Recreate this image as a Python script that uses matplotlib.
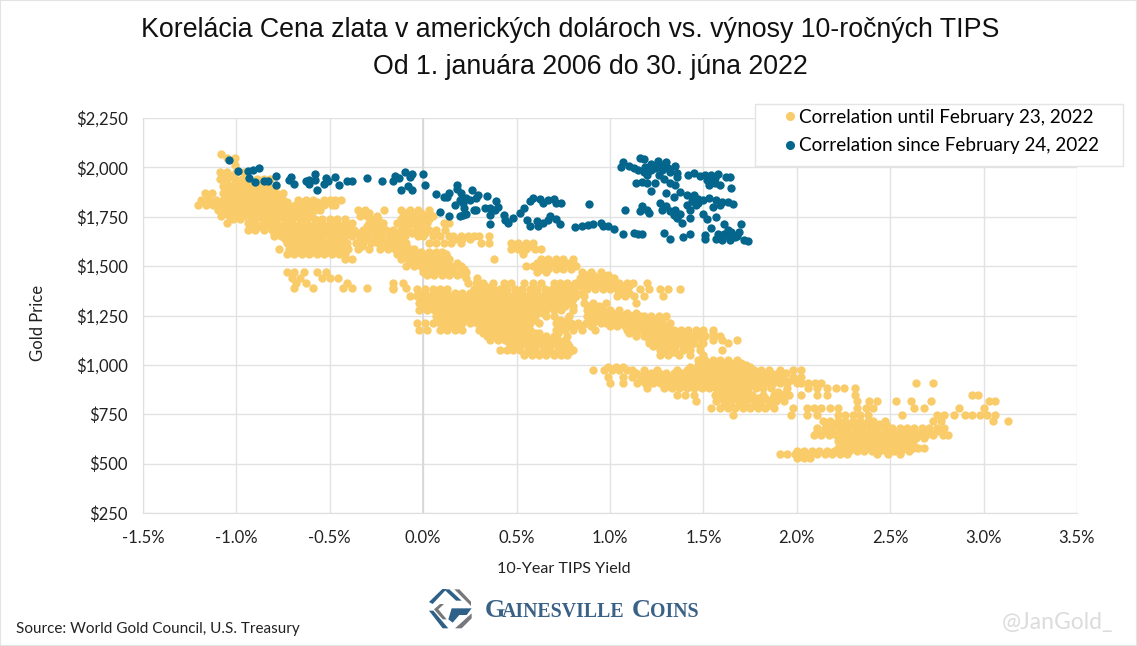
import matplotlib
matplotlib.use('Agg')
import matplotlib.pyplot as plt
from matplotlib.patches import Polygon, Rectangle
from matplotlib.lines import Line2D

W, H = 1137, 646

title_lines = ['Korelácia Cena zlata v amerických dolároch vs. výnosy 10-ročných TIPS',
               'Od 1. januára 2006 do 30. júna 2022']
x_ticks = [-1.5, -1.0, -0.5, 0.0, 0.5, 1.0, 1.5, 2.0, 2.5, 3.0, 3.5]
y_ticks = [250, 500, 750, 1000, 1250, 1500, 1750, 2000, 2250]

# blue points, (10y yield %, gold price)
blue_left = [(-1.04, 2039), (-0.99, 1980), (-0.94, 1980), (-0.93, 1946), (-0.90, 1924), (-0.91, 1985), (-0.88, 1998),
             (-0.85, 1929), (-0.83, 1929), (-0.79, 1955), (-0.79, 1909), (-0.72, 1934), (-0.71, 1949), (-0.69, 1916),
             (-0.625, 1933), (-0.61, 1916), (-0.61, 1938), (-0.58, 1966), (-0.58, 1934), (-0.57, 1885), (-0.53, 1916),
             (-0.52, 1946), (-0.51, 1929), (-0.47, 1953), (-0.45, 1911), (-0.41, 1929), (-0.38, 1931), (-0.30, 1944),
             (-0.22, 1929), (-0.16, 1931), (-0.15, 1958), (-0.13, 1946), (-0.10, 1976), (-0.07, 1951), (-0.06, 1968),
             (0.00, 1965), (0.01, 1911), (-0.12, 1887), (-0.08, 1904), (-0.06, 1884)]
blue_mid = [(0.07, 1864), (0.11, 1850), (0.125, 1850), (0.14, 1870), (0.18, 1912), (0.18, 1890), (0.205, 1870),
            (0.26, 1884), (0.295, 1862), (0.34, 1857), (0.39, 1830), (0.17, 1811), (0.195, 1837), (0.23, 1845),
            (0.215, 1820), (0.25, 1837), (0.28, 1845), (0.22, 1795), (0.215, 1761), (0.195, 1752), (0.23, 1766),
            (0.09, 1773), (0.14, 1752), (0.27, 1783), (0.285, 1786), (0.33, 1795), (0.36, 1795), (0.385, 1786),
            (0.40, 1800), (0.36, 1761), (0.36, 1714), (0.43, 1761), (0.44, 1736), (0.455, 1719), (0.48, 1744),
            (0.52, 1769), (0.54, 1795), (0.57, 1828), (0.59, 1845), (0.625, 1840), (0.64, 1820), (0.67, 1837),
            (0.70, 1840), (0.71, 1820), (0.74, 1820), (0.555, 1732), (0.57, 1705), (0.615, 1702), (0.61, 1727),
            (0.64, 1719), (0.67, 1736), (0.68, 1752), (0.71, 1739), (0.73, 1714), (0.81, 1699), (0.89, 1815),
            (0.85, 1702), (0.88, 1707), (0.91, 1712), (0.95, 1720), (0.96, 1702), (0.99, 1702), (1.02, 1686),
            (1.07, 1663), (1.13, 1668), (1.15, 1663), (1.17, 1661), (1.08, 1783), (1.16, 1780), (1.17, 1803),
            (1.20, 1786), (1.21, 1769), (1.29, 1668), (1.32, 1639), (1.39, 1647), (1.43, 1664), (1.51, 1656),
            (1.51, 1639)]
blue_right = [(1.07, 2029), (1.06, 2000), (1.10, 2007), (1.13, 1995), (1.16, 2046), (1.18, 2042), (1.15, 1986),
              (1.18, 1978), (1.22, 2017), (1.255, 2034), (1.24, 1995), (1.30, 2029), (1.28, 1986), (1.35, 2007),
              (1.31, 1995), (1.36, 1973), (1.20, 1961), (1.26, 1961), (1.14, 1922), (1.17, 1927), (1.20, 1919),
              (1.24, 1919), (1.36, 1949), (1.29, 1939), (1.22, 1881), (1.32, 1919), (1.35, 1910), (1.30, 1871),
              (1.34, 1851), (1.375, 1876), (1.42, 1961), (1.45, 1973), (1.48, 1956), (1.51, 1961), (1.55, 1944),
              (1.58, 1966), (1.62, 1953), (1.64, 1953), (1.52, 1936), (1.53, 1910), (1.56, 1919), (1.59, 1910),
              (1.65, 1898), (1.41, 1859), (1.45, 1859), (1.47, 1842), (1.50, 1834), (1.53, 1847), (1.57, 1837),
              (1.60, 1825), (1.63, 1825), (1.66, 1814), (1.55, 1800), (1.59, 1808), (1.46, 1808), (1.41, 1808),
              (1.43, 1783), (1.27, 1820), (1.30, 1803), (1.28, 1783), (1.32, 1780), (1.35, 1786), (1.34, 1758),
              (1.375, 1763), (1.36, 1746), (1.43, 1746), (1.385, 1719), (1.50, 1763), (1.52, 1741), (1.57, 1749),
              (1.54, 1695), (1.61, 1712), (1.70, 1712), (1.63, 1681), (1.65, 1673), (1.69, 1673), (1.57, 1639),
              (1.60, 1647), (1.64, 1634), (1.67, 1647), (1.72, 1630), (1.74, 1625), (1.61, 1664), (1.58, 1661),
              (1.19, 2000), (1.22, 1985), (1.25, 2010), (1.28, 2010), (1.32, 1975), (1.54, 1960), (1.56, 1945),
              (1.47, 1820), (1.44, 1830), (1.62, 1660), (1.66, 1660), (1.60, 1632), (1.68, 1655)]

# gold points, grouped by price level: (price, [yields])
gold_top = [
    (2068, [-1.08]), (2045, [-1.05, -1.01]), (2010, [-1.01]),
    (1975, [-1.09, -1.05, -1.0, -0.96]),
    (1940, [-1.09, -1.05, -1.01, -0.97, -0.93, -0.89, -0.85, -0.82]),
    (1905, [-1.07, -1.03, -0.99, -0.95, -0.91, -0.87, -0.83, -0.79]),
    (1870, [-1.17, -1.13, -1.07, -1.03, -0.99, -0.95, -0.91, -0.87, -0.83, -0.79, -0.75]),
    (1837, [-1.19, -1.15, -1.11, -1.07, -1.03, -0.99, -0.95, -0.91, -0.87, -0.83, -0.79, -0.75, -0.67, -0.63, -0.59,
            -0.53, -0.5, -0.47, -0.44]),
    (1810, [-1.205, -1.165, -1.125, -1.085, -1.045, -1.005, -0.965, -0.925, -0.885, -0.845, -0.805, -0.765, -0.725,
            -0.685, -0.645, -0.605, -0.565, -0.53, -0.49, -0.47]),
    (1785, [-1.10, -1.06, -1.02, -0.98, -0.94, -0.90, -0.86, -0.82, -0.78, -0.74, -0.70, -0.66, -0.62, -0.58, -0.55,
            -0.35, -0.31, -0.21, -0.12, -0.07, -0.03, 0.03]),
    (1755, [-1.08, -1.04, -1, -0.96, -0.92, -0.88, -0.84, -0.80, -0.76, -0.72, -0.68, -0.64, -0.60, -0.34, -0.30,
            -0.25, -0.11, -0.07, -0.03, 0.01, 0.05]),
    (1720, [-1.05, -0.94, -0.90, -0.86, -0.82, -0.78, -0.74, -0.70, -0.66, -0.62, -0.58, -0.54, -0.50, -0.46, -0.42,
            -0.38, -0.29, -0.25, -0.215, -0.14, -0.10, -0.06, -0.02, 0.02, 0.11, 0.14]),
    (1685, [-0.94, -0.90, -0.85, -0.81, -0.77, -0.73, -0.69, -0.65, -0.61, -0.57, -0.53, -0.49, -0.45, -0.41, -0.37,
            -0.32, -0.28, -0.24, -0.20, -0.16, -0.12, -0.08, -0.04, 0, 0.03, 0.07, 0.115]),
    (1651, [-0.80, -0.76, -0.72, -0.68, -0.64, -0.60, -0.56, -0.50, -0.46, -0.42, -0.38, -0.34, -0.30, -0.26, -0.22,
            -0.18, -0.14, -0.10, -0.03, 0, 0.05, 0.09, 0.14, 0.16, 0.20, 0.24, 0.27, 0.30, 0.35]),
    (1618, [-0.73, -0.69, -0.65, -0.61, -0.57, -0.53, -0.49, -0.45, -0.41, -0.36, -0.32, -0.28, -0.24, -0.20, -0.16,
            -0.12, -0.09, 0.03, 0.07, 0.11, 0.15, 0.205, 0.31, 0.35, 0.47, 0.51, 0.55, 0.59]),
    (1585, [-0.77, -0.72, -0.68, -0.64, -0.60, -0.56, -0.52, -0.48, -0.44, -0.40, -0.35, -0.29, -0.23, -0.19, -0.15,
            -0.11, -0.07, -0.05, 0.47, 0.51, 0.55, 0.60, 0.63]),
    (1560, [-0.73, -0.69, -0.65, -0.61, -0.57, -0.53, -0.49, -0.45, -0.42, -0.14, -0.10, -0.06, -0.02, 0.02, 0.06,
            0.10, 0.12, 0.535]),
    (1535, [-0.42, -0.38, -0.12, -0.08, -0.04, 0, 0.04, 0.08, 0.12, 0.14, 0.38, 0.63, 0.67, 0.71, 0.75, 0.80]),
    (1500, [-0.09, -0.05, -0.01, 0.03, 0.07, 0.11, 0.15, 0.20, 0.55, 0.59, 0.63, 0.67, 0.71, 0.75, 0.79, 0.82]),
    (1470, [-0.73, -0.69, -0.64, -0.57, -0.52, 0, 0.04, 0.08, 0.12, 0.16, 0.20, 0.23, 0.61, 0.66, 0.85, 0.90, 0.95]),
    (1440, [-0.70, -0.66, -0.54, -0.5, -0.455, 0.23, 0.29, 0.84, 0.88, 0.92, 0.96, 1.0, 1.02]),
    (1415, [-0.68, -0.625, -0.41, -0.16, -0.11, 0.24, 0.28, 0.32, 0.375, 0.43, 0.47, 0.54, 0.59, 0.63, 0.70, 0.73,
            0.77, 0.81, 0.85, 0.89, 0.93, 0.97, 1.01, 1.05, 1.09, 1.125, 1.20]),
    (1390, [-0.69, -0.59, -0.43, -0.38, -0.30, -0.16, -0.09]),
]
gold_top_inner = [
    (1957, [-1.07, -1.03]),
    (1922, [-1.05, -1.01, -0.97, -0.93, -0.89, -0.85]),
    (1888, [-1.05, -1.01, -0.97, -0.93, -0.89, -0.85, -0.81]),
    (1853, [-1.15, -1.05, -1.01, -0.97, -0.93, -0.89, -0.85, -0.81, -0.77]),
    (1823, [-1.17, -1.13, -1.09, -1.05, -1.01, -0.97, -0.93, -0.89, -0.85, -0.81, -0.77, -0.73, -0.65, -0.61, -0.57,
            -0.51]),
    (1797, [-1.08, -1.04, -1.0, -0.96, -0.92, -0.88, -0.84, -0.80, -0.76, -0.72, -0.68, -0.64, -0.60, -0.56]),
    (1770, [-1.06, -1.02, -0.98, -0.94, -0.90, -0.86, -0.82, -0.78, -0.74, -0.70, -0.66, -0.62, -0.33, -0.29, -0.09,
            -0.05, -0.01, 0.03]),
    (1737, [-1.02, -0.98, -0.90, -0.86, -0.82, -0.78, -0.74, -0.70, -0.66, -0.62, -0.58, -0.54, -0.50, -0.46, -0.42,
            -0.28, -0.24, -0.12, -0.08, -0.04, 0, 0.03]),
    (1702, [-0.92, -0.88, -0.84, -0.80, -0.76, -0.72, -0.68, -0.64, -0.60, -0.56, -0.52, -0.48, -0.44, -0.39, -0.30,
            -0.26, -0.22, -0.12, -0.08, -0.04, 0, 0.01]),
    (1668, [-0.80, -0.76, -0.72, -0.68, -0.64, -0.60, -0.56, -0.52, -0.48, -0.44, -0.40, -0.35, -0.30, -0.26, -0.22,
            -0.18, -0.14, -0.12, -0.06, -0.02, 0.01]),
    (1635, [-0.74, -0.70, -0.66, -0.62, -0.58, -0.54, -0.50, -0.46, -0.44, -0.34, -0.30, -0.26, -0.22, -0.18, -0.14,
            -0.12, 0.17, 0.21, 0.25]),
    (1602, [-0.70, -0.66, -0.62, -0.58, -0.54, -0.50, -0.46, -0.42, -0.33, -0.21, -0.17, -0.13, -0.09, 0.49, 0.53,
            0.57]),
    (1572, [-0.71, -0.67, -0.63, -0.59, -0.55, -0.51, -0.47, -0.43, -0.13, -0.09, -0.05, -0.01, 0.03, 0.07, 0.10]),
    (1547, [-0.09, -0.05, -0.01, 0.03, 0.07, 0.11, 0.13]),
    (1517, [-0.07, -0.03, 0.01, 0.05, 0.09, 0.13, 0.18, 0.61, 0.65, 0.69, 0.73, 0.77, 0.80]),
    (1485, [0.0, 0.04, 0.08, 0.12, 0.16, 0.20, 0.22, 0.63, 0.67, 0.71, 0.75, 0.79]),
    (1455, [0.02, 0.06, 0.10, 0.14, 0.18, 0.22, 0.87, 0.91, 0.95, 0.99]),
]
gold_middle = [
    (1382, [-0.16, -0.035, 0.01, 0.05, 0.09, 0.125, 0.27, 0.31, 0.345, 0.375, 0.41, 0.45, 0.49, 0.53, 0.57, 0.61,
            0.65, 0.69, 0.72, 0.76, 0.80, 0.86, 0.875, 0.92, 0.96, 1.0, 1.04, 1.09, 1.16, 1.21, 1.27, 1.31, 1.375]),
    (1350, [-0.07, -0.035, -0.02, 0.02, 0.06, 0.10, 0.14, 0.18, 0.22, 0.26, 0.30, 0.34, 0.38, 0.42, 0.46, 0.50, 0.54,
            0.58, 0.62, 0.66, 0.70, 0.74, 0.78, 0.82, 0.86, 1.04, 1.08, 1.13, 1.18, 1.285]),
    (1315, [-0.02, 0.03, 0.07, 0.11, 0.15, 0.19, 0.23, 0.27, 0.31, 0.35, 0.39, 0.43, 0.47, 0.51, 0.55, 0.59, 0.63,
            0.67, 0.71, 0.75, 0.79, 0.86, 0.91, 0.98, 1.14]),
    (1280, [-0.02, 0.02, 0.06, 0.10, 0.14, 0.18, 0.22, 0.26, 0.30, 0.34, 0.38, 0.42, 0.46, 0.50, 0.54, 0.58, 0.62,
            0.66, 0.70, 0.74, 0.80, 0.875, 0.92, 0.96, 1.0, 1.05]),
    (1246, [0.07, 0.11, 0.15, 0.19, 0.23, 0.27, 0.31, 0.35, 0.39, 0.43, 0.47, 0.51, 0.55, 0.60, 0.66, 0.70, 0.78,
            0.875, 0.92, 0.96, 1.0, 1.04, 1.08, 1.12, 1.16, 1.18, 1.22, 1.26, 1.30]),
    (1212, [-0.035, 0.01, 0.05, 0.09, 0.13, 0.17, 0.21, 0.25, 0.29, 0.33, 0.37, 0.41, 0.45, 0.49, 0.53, 0.57, 0.62,
            0.71, 0.75, 0.79, 0.83, 0.87, 0.91, 0.95, 0.98, 1.02, 1.06, 1.10, 1.14, 1.18, 1.22, 1.26, 1.32]),
    (1179, [-0.02, 0.02, 0.09, 0.13, 0.17, 0.21, 0.30, 0.34, 0.38, 0.42, 0.46, 0.50, 0.54, 0.57, 0.71, 0.76, 0.80,
            0.85, 0.92, 1.09, 1.13, 1.17, 1.21, 1.25, 1.29, 1.32, 1.34, 1.38, 1.42, 1.46, 1.50, 1.55]),
    (1145, [0.34, 0.38, 0.42, 0.46, 0.50, 0.54, 0.58, 0.62, 0.66, 0.70, 0.77, 1.14, 1.18, 1.23, 1.27, 1.31, 1.35,
            1.39, 1.43, 1.47, 1.51, 1.55, 1.59]),
    (1111, [0.46, 0.50, 0.54, 0.58, 0.62, 0.66, 0.70, 0.74, 0.77, 1.21, 1.25, 1.29, 1.33, 1.37, 1.41, 1.45, 1.50,
            1.63]),
    (1077, [0.41, 0.45, 0.48, 0.52, 0.56, 0.60, 0.64, 0.68, 0.72, 0.76, 0.80, 1.27, 1.31, 1.35, 1.39, 1.43, 1.48,
            1.60]),
    (1052, [0.54, 0.58, 0.62, 0.66, 0.70, 0.74, 0.77, 1.27, 1.31, 1.37, 1.43, 1.50]),
    (1025, [1.47, 1.51, 1.55, 1.59, 1.63, 1.68]),
    (1000, [1.47, 1.51, 1.55, 1.59, 1.63, 1.67, 1.71, 1.73]),
]
gold_middle_inner = [
    (1398, [0.29, 0.33, 0.37, 0.75, 0.79, 0.83, 0.87, 0.91, 0.95, 0.99, 1.03, 1.07, 1.10]),
    (1366, [-0.03, 0.01, 0.05, 0.09, 0.13, 0.17, 0.21, 0.25, 0.29, 0.33, 0.37, 0.41, 0.45, 0.49, 0.53, 0.57, 0.61,
            0.65, 0.69, 0.73, 0.77, 0.81, 0.85, 1.06, 1.10]),
    (1332, [0.0, 0.04, 0.08, 0.12, 0.16, 0.20, 0.24, 0.28, 0.32, 0.36, 0.40, 0.44, 0.48, 0.52, 0.56, 0.60, 0.64, 0.68,
            0.72, 0.76, 0.80]),
    (1298, [0.0, 0.04, 0.08, 0.12, 0.16, 0.20, 0.24, 0.28, 0.32, 0.36, 0.40, 0.44, 0.48, 0.52, 0.56, 0.60, 0.64, 0.68,
            0.72, 0.76, 0.80, 0.89, 0.94]),
    (1263, [0.09, 0.13, 0.17, 0.21, 0.25, 0.29, 0.33, 0.37, 0.41, 0.45, 0.49, 0.53, 0.57, 0.61, 0.64, 0.89, 0.93, 0.97,
            1.01, 1.05, 1.09, 1.14]),
    (1229, [0.08, 0.12, 0.16, 0.20, 0.24, 0.28, 0.32, 0.36, 0.40, 0.44, 0.48, 0.52, 0.56, 0.60, 0.73, 0.77, 0.89, 0.93,
            0.97, 1.01, 1.05, 1.09, 1.13, 1.17, 1.21, 1.25, 1.28]),
    (1195, [0.10, 0.14, 0.18, 0.32, 0.36, 0.40, 0.44, 0.48, 0.52, 0.56, 0.73, 0.77, 0.81, 0.85, 0.90, 1.0, 1.04, 1.08,
            1.12, 1.16, 1.20, 1.24, 1.28, 1.30]),
    (1162, [0.32, 0.36, 0.40, 0.44, 0.48, 0.52, 0.56, 0.60, 0.62, 0.72, 1.10, 1.14, 1.18, 1.22, 1.26, 1.30, 1.34, 1.38,
            1.42, 1.46, 1.50, 1.55]),
    (1128, [0.36, 0.40, 0.44, 0.48, 0.52, 0.56, 0.60, 0.64, 0.68, 0.72, 0.76, 1.21, 1.25, 1.29, 1.33, 1.37, 1.41, 1.45,
            1.49, 1.55, 1.60, 1.68]),
    (1094, [0.48, 0.52, 0.56, 0.60, 0.64, 0.68, 0.72, 0.76, 0.78, 1.23, 1.27, 1.31, 1.35, 1.39, 1.43, 1.48]),
    (1065, [0.56, 0.60, 0.64, 0.68, 0.72, 0.76, 0.78, 1.29, 1.33, 1.35]),
]
gold_bottom = [
    (975, [0.91, 0.97, 1.01, 1.05, 1.09, 1.12, 1.18, 1.25, 1.36, 1.41, 1.45, 1.49, 1.53, 1.57, 1.61, 1.65, 1.69, 1.73,
           1.77, 1.81, 1.85, 1.91, 1.98, 2.02]),
    (941, [0.99, 1.07, 1.12, 1.16, 1.20, 1.24, 1.28, 1.32, 1.36, 1.40, 1.44, 1.48, 1.52, 1.56, 1.60, 1.64, 1.68, 1.72,
           1.76, 1.80, 1.84, 1.88, 1.92, 1.98, 2.02]),
    (908, [1.0, 1.07, 1.145, 1.19, 1.23, 1.27, 1.31, 1.35, 1.39, 1.43, 1.47, 1.51, 1.55, 1.59, 1.63, 1.67, 1.71, 1.75,
           1.79, 1.83, 1.87, 1.91, 1.95, 2.0, 2.02, 2.06, 2.10, 2.13, 2.64, 2.73]),
    (882, [1.20, 1.29, 1.33, 1.37, 1.41, 1.45, 1.49, 1.53, 1.57, 1.61, 1.65, 1.69, 1.73, 1.78, 1.82, 1.86, 1.95, 2.06,
           2.11, 2.16, 2.21, 2.25, 2.31]),
    (848, [1.36, 1.40, 1.45, 1.56, 1.60, 1.64, 1.68, 1.72, 1.76, 1.82, 1.88, 1.92, 1.96, 2.02, 2.11, 2.16, 2.31, 2.94,
           2.97]),
    (815, [1.46, 1.57, 1.61, 1.65, 1.69, 1.73, 1.77, 1.81, 1.85, 1.89, 1.93, 2.32, 2.385, 2.43, 2.53, 2.61, 2.72,
           3.03, 3.06]),
    (782, [1.54, 1.59, 1.63, 1.67, 1.71, 1.75, 1.79, 1.83, 1.88, 1.98, 2.055, 2.09, 2.13, 2.18, 2.22, 2.32, 2.37, 2.41,
           2.63, 2.68, 2.87, 3.0]),
    (748, [1.66, 1.97, 2.055, 2.11, 2.22, 2.26, 2.30, 2.34, 2.38, 2.565, 2.75, 2.79, 2.84, 2.90, 2.94, 2.98, 3.02,
           3.06]),
    (715, [2.14, 2.18, 2.22, 2.26, 2.30, 2.34, 2.38, 2.41, 2.47, 2.73, 2.77, 3.05, 3.13]),
    (681, [2.11, 2.15, 2.19, 2.23, 2.27, 2.31, 2.35, 2.39, 2.43, 2.47, 2.51, 2.55, 2.59, 2.63, 2.67, 2.71, 2.75, 2.79]),
    (647, [2.09, 2.13, 2.17, 2.21, 2.25, 2.29, 2.33, 2.37, 2.41, 2.45, 2.49, 2.53, 2.57, 2.61, 2.65, 2.69, 2.73, 2.78,
           2.81]),
    (614, [2.22, 2.26, 2.30, 2.34, 2.38, 2.42, 2.46, 2.50, 2.54, 2.58, 2.61]),
    (580, [2.22, 2.26, 2.30, 2.34, 2.38, 2.42, 2.46, 2.50, 2.54, 2.58, 2.62, 2.65, 2.68]),
    (551, [1.91, 1.95, 1.99, 2.03, 2.07, 2.11, 2.15, 2.19, 2.23, 2.27, 2.43, 2.49, 2.55]),
    (530, [2.0, 2.04, 2.07]),
]
gold_bottom_inner = [
    (1012, [1.49, 1.53, 1.57, 1.61, 1.65, 1.70]),
    (988, [0.99, 1.03, 1.07, 1.43, 1.47, 1.51, 1.55, 1.59, 1.63, 1.67, 1.71, 1.75]),
    (958, [1.14, 1.18, 1.22, 1.26, 1.30, 1.34, 1.38, 1.42, 1.46, 1.50, 1.54, 1.58, 1.62, 1.66, 1.70, 1.74, 1.78, 1.82,
           1.86, 1.90, 1.94]),
    (925, [1.17, 1.21, 1.25, 1.29, 1.33, 1.37, 1.41, 1.45, 1.49, 1.53, 1.57, 1.61, 1.65, 1.69, 1.73, 1.77, 1.81, 1.85,
           1.89, 1.93, 1.97, 2.0]),
    (895, [1.31, 1.35, 1.39, 1.43, 1.47, 1.51, 1.55, 1.59, 1.63, 1.67, 1.71, 1.75, 1.80]),
    (865, [1.58, 1.62, 1.66, 1.70, 1.74, 1.90, 1.94]),
    (830, [1.59, 1.63, 1.67, 1.71, 1.75, 1.79, 1.83, 1.87, 1.91]),
    (798, [1.61, 1.65, 1.69, 1.73, 1.77, 1.81, 1.85]),
    (700, [2.16, 2.20, 2.24, 2.28, 2.32, 2.36, 2.40, 2.44, 2.48]),
    (665, [2.11, 2.15, 2.19, 2.23, 2.27, 2.31, 2.35, 2.39, 2.43, 2.47, 2.51, 2.55, 2.59, 2.63, 2.67, 2.71, 2.75, 2.77]),
    (630, [2.24, 2.28, 2.32, 2.36, 2.40, 2.44, 2.48, 2.52, 2.56, 2.60, 2.64, 2.68]),
    (597, [2.24, 2.28, 2.32, 2.36, 2.40, 2.44, 2.48, 2.52, 2.56, 2.60, 2.62]),
    (565, [2.0, 2.04, 2.08, 2.12, 2.16, 2.20, 2.24, 2.28, 2.32, 2.36, 2.40, 2.44, 2.48, 2.52, 2.56, 2.60]),
]

gold_x, gold_y = [], []
for rows in (gold_top, gold_top_inner, gold_middle, gold_middle_inner, gold_bottom, gold_bottom_inner):
    for price, yields in rows:
        gold_x += yields
        gold_y += [price] * len(yields)
blue = blue_left + blue_mid + blue_right
blue_x = [p[0] for p in blue]
blue_y = [p[1] for p in blue]

GOLD = '#f9cb69'
BLUE = '#04668c'
TICK_FONT = ['Lato', 'DejaVu Sans']


def px(x, y):
    return x / W, 1 - y / H


fig = plt.figure(figsize=(W / 100, H / 100), dpi=100)
ax = fig.add_axes([143 / W, 1 - 513 / H, (1077 - 143) / W, (513 - 118) / H])

ax.scatter(gold_x, gold_y, s=36, color=GOLD, linewidths=0, zorder=3)
ax.scatter(blue_x, blue_y, s=36, color=BLUE, linewidths=0, zorder=4)

ax.set_xlim(-1.5, 3.5)
ax.set_ylim(250, 2250)
ax.set_xticks(x_ticks)
ax.set_yticks(y_ticks)
ax.set_xticklabels(['%.1f%%' % v for v in x_ticks], family=TICK_FONT, fontsize=12, color='#222222')
ax.set_yticklabels(['${:,}'.format(v) for v in y_ticks], family=TICK_FONT, fontsize=12, color='#222222')
ax.tick_params(axis='x', length=0, pad=12)
ax.tick_params(axis='y', length=0, pad=11)
ax.grid(True, color='#e2e2e2', linewidth=1)
ax.set_axisbelow(True)
ax.axvline(0, color='#d6d6d6', linewidth=1.2, zorder=1)
for side in ['top', 'right']:
    ax.spines[side].set_visible(False)
for side in ['left', 'bottom']:
    ax.spines[side].set_color('#dedede')

fig.text(*px(570, 30), title_lines[0], ha='center', va='center', fontsize=19.3, family='Liberation Sans',
         color='#111111')
fig.text(*px(590, 67), title_lines[1], ha='center', va='center', fontsize=19.3, family='Liberation Sans',
         color='#111111')

fig.text(*px(564, 569), '10-Year TIPS Yield', ha='center', va='center', fontsize=11.6, family=TICK_FONT,
         color='#222222')
fig.text(*px(38, 323), 'Gold Price', ha='center', va='center', rotation=90, fontsize=12, family=TICK_FONT,
         color='#222222')
fig.text(*px(16, 629), 'Source: World Gold Council, U.S. Treasury', ha='left', va='center', fontsize=11,
         family=TICK_FONT, color='#222222')
fig.text(*px(1113, 623), '@JanGold_', ha='right', va='center', fontsize=16.5, family=TICK_FONT, color='#dcdcdc')

# legend box is wider than the default padding allows, so the frame is separate
ax.add_patch(Rectangle(px(755, 166), 368 / W, 62 / H, transform=fig.transFigure, clip_on=False, facecolor='white',
                       edgecolor='#e4e4e4', linewidth=1, zorder=5))
handles = [Line2D([], [], linestyle='none', marker='o', markersize=5.5, color=GOLD),
           Line2D([], [], linestyle='none', marker='o', markersize=5.5, color=BLUE)]
leg = ax.legend(handles, ['Correlation until February 23, 2022', 'Correlation since February 24, 2022'],
                loc='upper left', bbox_to_anchor=px(780.5, 109), bbox_transform=fig.transFigure,
                prop={'family': TICK_FONT, 'size': 13.6}, frameon=False, borderaxespad=0, borderpad=0,
                labelspacing=0.6, handlelength=1, handletextpad=0)
leg.set_zorder(6)

# logo, drawn in pixel positions
logo_blue = [[(27, 66), (67, 27), (80, 27), (38, 72)],
             [(72, 28), (88, 28), (125, 62), (108, 62)],
             [(27, 92), (40, 92), (85, 145), (68, 145)],
             [(95, 85), (155, 85), (140, 105), (118, 105), (98, 128), (85, 118)]]
logo_gray = [[(103, 28), (118, 28), (153, 65), (153, 78)],
             [(60, 72), (72, 72), (55, 88), (80, 118), (68, 118), (42, 88)],
             [(155, 100), (155, 115), (125, 145), (105, 145)]]
for polys, colour in ((logo_blue, '#2f6088'), (logo_gray, '#77787b')):
    for poly in polys:
        fig.add_artist(Polygon([px(420 + a / 3, 580 + b / 3) for a, b in poly], closed=True, color=colour,
                               linewidth=0, transform=fig.transFigure))
for text, pos, size in (('G', 485, 19), ('AINESVILLE', 502, 14.3), ('C', 632, 19), ('OINS', 650, 14.3)):
    fig.text(*px(pos, 617), text, ha='left', va='baseline', fontsize=size, family='Liberation Serif',
             fontweight='bold', color='#3a6186')

fig.add_artist(Rectangle((0, 0), 1, 1, fill=False, edgecolor='#e3e3e3', linewidth=1.5, transform=fig.transFigure))

fig.savefig('out.png', dpi=100)
